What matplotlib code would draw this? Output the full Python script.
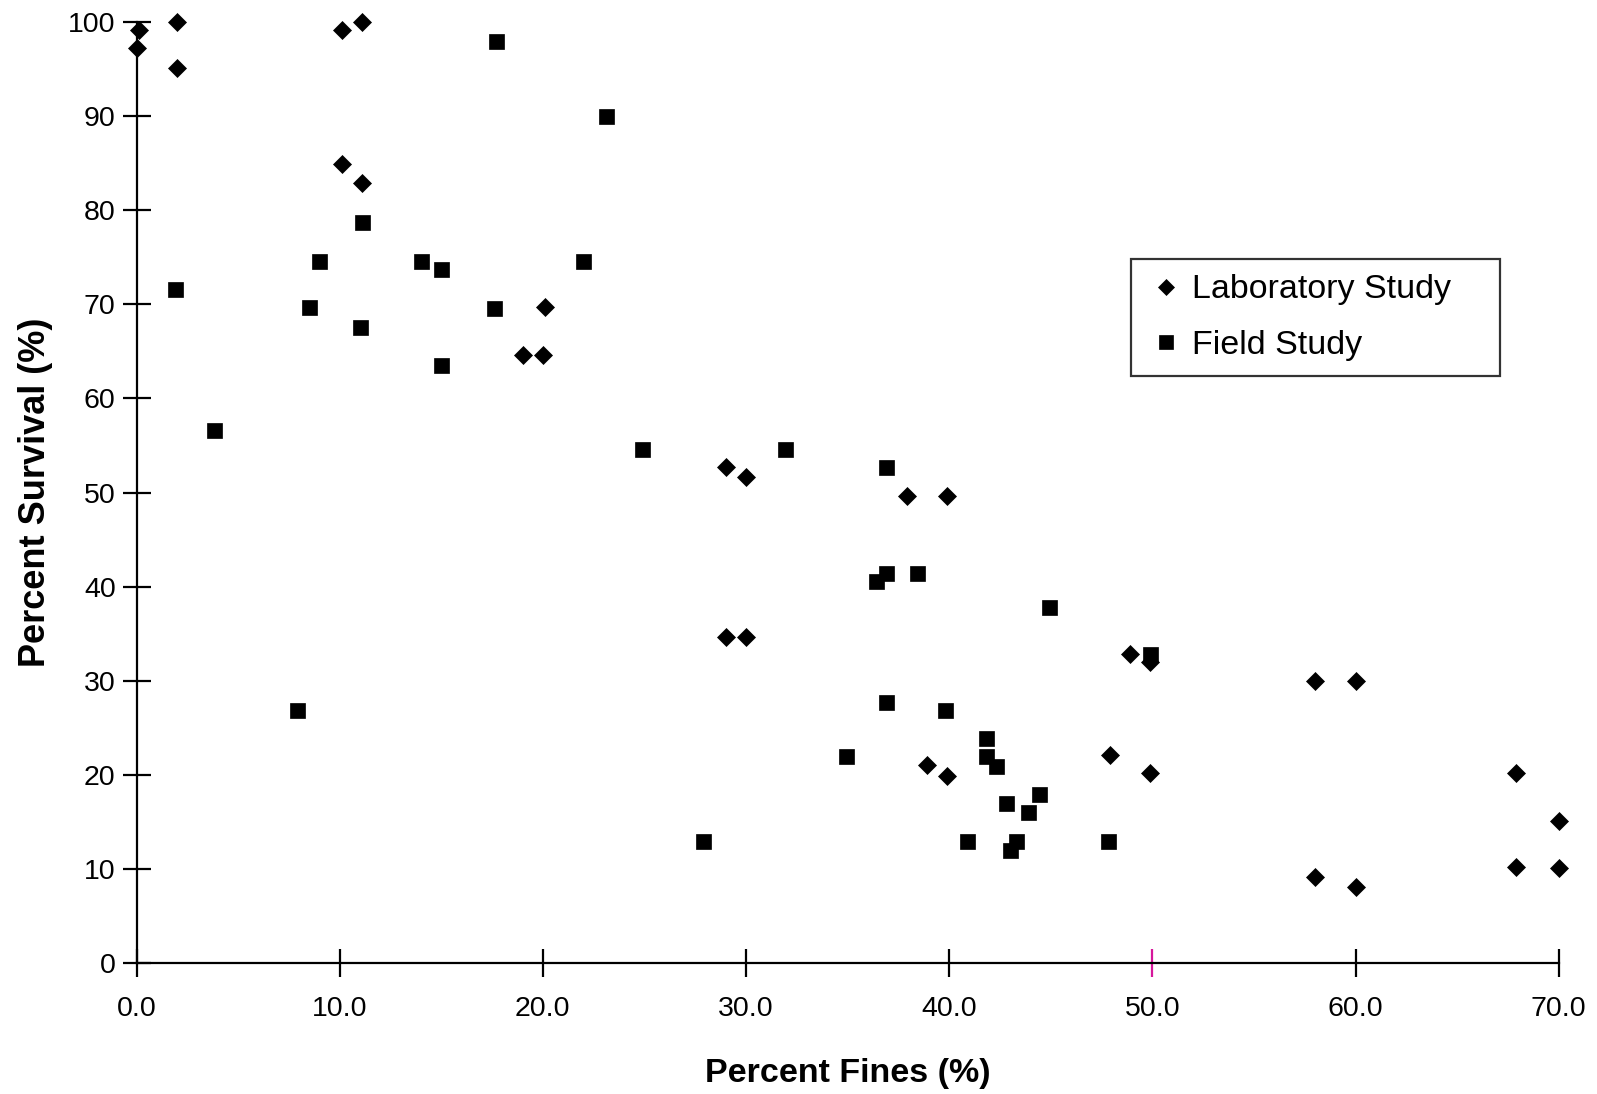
import matplotlib.pyplot as plt
from matplotlib.ticker import FormatStrFormatter

plt.rcParams['font.family'] = ['Liberation Sans', 'DejaVu Sans']

# Laboratory Study (diamonds)
lab_fines = [0.0, 0.1, 2.0, 2.0, 10.1, 11.1, 10.1, 11.1, 20.1, 19.0, 20.0,
             29.0, 30.0, 37.9, 39.9, 29.0, 30.0, 48.9, 49.9, 58.0, 60.0,
             38.9, 39.9, 47.9, 49.9, 67.9, 70.0, 67.9, 70.0, 58.0, 60.0]
lab_survival = [97.2, 99.1, 100.0, 95.1, 99.1, 100.0, 84.9, 82.9, 69.7, 64.6, 64.6,
                52.7, 51.7, 49.6, 49.6, 34.7, 34.7, 32.8, 32.0, 30.0, 30.0,
                21.0, 19.9, 22.1, 20.2, 20.2, 15.1, 10.2, 10.1, 9.1, 8.1]

# Field Study (squares)
field_fines = [1.9, 3.8, 7.9, 8.5, 9.0, 11.1, 11.0, 14.0, 15.0, 15.0, 17.6,
               17.7, 22.0, 23.1, 24.9, 31.9, 27.9, 34.9, 36.9, 36.9, 36.4,
               38.4, 36.9, 44.9, 39.8, 41.8, 41.8, 42.3, 40.9, 42.8, 44.4,
               43.9, 43.3, 43.0, 47.8, 49.9]
field_survival = [71.6, 56.6, 26.9, 69.7, 74.6, 78.7, 67.6, 74.6, 73.7, 63.6, 69.6,
                  98.0, 74.6, 90.0, 54.6, 54.6, 13.0, 22.0, 52.7, 41.5, 40.6,
                  41.5, 27.7, 37.8, 26.9, 23.9, 22.0, 20.9, 13.0, 17.0, 18.0,
                  16.0, 13.0, 12.0, 13.0, 32.8]

x_ticks = [0, 10, 20, 30, 40, 50, 60, 70]
y_ticks = [0, 10, 20, 30, 40, 50, 60, 70, 80, 90, 100]

fig = plt.figure(figsize=(15.97, 10.94), dpi=100)
ax = fig.add_axes([0.0855, 0.1197, 0.8905, 0.8602])

ax.plot(lab_fines, lab_survival, 'D', color='black', markersize=9.3,
        markeredgewidth=0.5, linestyle='none', clip_on=False, label='Laboratory Study')
ax.plot(field_fines, field_survival, 's', color='black', markersize=10.8,
        markeredgewidth=0.5, linestyle='none', clip_on=False, label='Field Study')

ax.set_xlim(0, 70)
ax.set_ylim(0, 100)
ax.set_xticks(x_ticks)
ax.set_yticks(y_ticks)
ax.xaxis.set_major_formatter(FormatStrFormatter('%.1f'))

for side in ['top', 'right']:
    ax.spines[side].set_visible(False)
for side in ['left', 'bottom']:
    ax.spines[side].set_linewidth(1.6)

ax.tick_params(axis='both', direction='inout', length=20, width=1.6, labelsize=20.5)
ax.tick_params(axis='y', pad=5)
ax.tick_params(axis='x', pad=14)

# the 50.0 tick is magenta in the original
ax.xaxis.get_major_ticks()[5].tick1line.set_markeredgecolor('#d6179b')

ax.set_xlabel('Percent Fines (%)', fontsize=24.5, fontweight='bold', labelpad=26)
ax.set_ylabel('Percent Survival (%)', fontsize=26, fontweight='bold', labelpad=11)

leg = ax.legend(loc='upper left', bbox_to_anchor=(0.699, 0.6235, 0.2594, 0.1245),
                mode='expand', borderaxespad=0,
                fontsize=24.5, frameon=True, fancybox=False, markerscale=0.9,
                handlelength=1.2, handletextpad=0.15, borderpad=0.45,
                labelspacing=0.72, numpoints=1)
leg.get_frame().set_edgecolor('black')
leg.get_frame().set_linewidth(1.6)

fig.savefig('out.png', dpi=100)
